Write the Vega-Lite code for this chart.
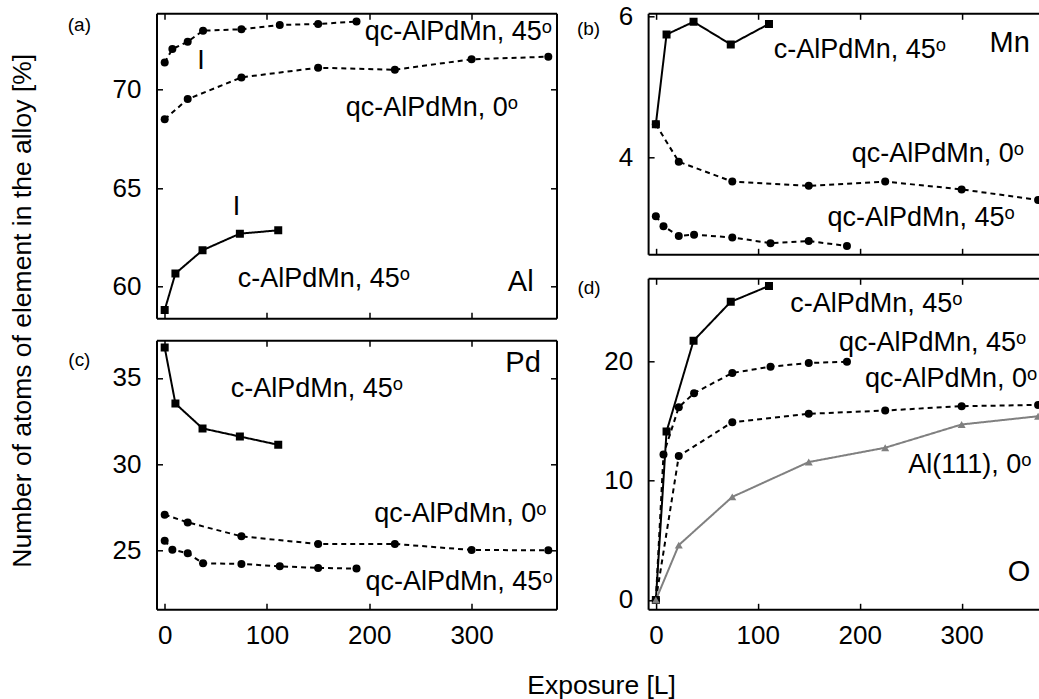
{
  "$schema": "https://vega.github.io/schema/vega-lite/v6.json",
  "padding": {"left": 8.5, "top": 2.3, "right": 0, "bottom": 0},
  "background": "white",
  "config": {
    "font": "Liberation Sans",
    "view": {"stroke": null},
    "axis": {
      "grid": false, "domainColor": "black", "domainWidth": 2, "tickColor": "black", "tickWidth": 1.5, "tickSize": -6,
      "labelFont": "Liberation Sans", "labelFontSize": 26, "labelColor": "black", "labelOverlap": false, "labelFlush": false,
      "titleFont": "Liberation Sans", "titleFontSize": 26.5, "titleColor": "black", "titleFontWeight": "normal", "titlePadding": 0
    },
    "axisX": {"labelPadding": 19},
    "axisY": {"labelPadding": 21.5}
  },
  "datasets": {
    "pts": [
      {"p":"a","s":"qc45","x":0,"y":71.36},{"p":"a","s":"qc45","x":7.5,"y":72.05},{"p":"a","s":"qc45","x":22.5,"y":72.42},{"p":"a","s":"qc45","x":37.5,"y":72.98},{"p":"a","s":"qc45","x":75,"y":73.05},{"p":"a","s":"qc45","x":112.5,"y":73.27},{"p":"a","s":"qc45","x":150,"y":73.32},{"p":"a","s":"qc45","x":187.5,"y":73.44},
      {"p":"a","s":"qc0","x":0,"y":68.49},{"p":"a","s":"qc0","x":22.5,"y":69.51},{"p":"a","s":"qc0","x":75,"y":70.61},{"p":"a","s":"qc0","x":150,"y":71.10},{"p":"a","s":"qc0","x":225,"y":71.00},{"p":"a","s":"qc0","x":300,"y":71.53},{"p":"a","s":"qc0","x":375,"y":71.66},
      {"p":"a","s":"c45","x":0,"y":58.82},{"p":"a","s":"c45","x":10.5,"y":60.67},{"p":"a","s":"c45","x":37,"y":61.85},{"p":"a","s":"c45","x":73.5,"y":62.69},{"p":"a","s":"c45","x":111,"y":62.86},
      {"p":"b","s":"qc0","x":0,"y":4.47},{"p":"b","s":"qc0","x":22.5,"y":3.94},{"p":"b","s":"qc0","x":75,"y":3.66},{"p":"b","s":"qc0","x":150,"y":3.60},{"p":"b","s":"qc0","x":225,"y":3.66},{"p":"b","s":"qc0","x":300,"y":3.55},{"p":"b","s":"qc0","x":375,"y":3.40},
      {"p":"b","s":"qc45","x":0,"y":3.17},{"p":"b","s":"qc45","x":7.5,"y":3.03},{"p":"b","s":"qc45","x":22.5,"y":2.89},{"p":"b","s":"qc45","x":37.5,"y":2.91},{"p":"b","s":"qc45","x":75,"y":2.87},{"p":"b","s":"qc45","x":112.5,"y":2.79},{"p":"b","s":"qc45","x":150,"y":2.82},{"p":"b","s":"qc45","x":187.5,"y":2.75},
      {"p":"b","s":"c45","x":0,"y":4.47},{"p":"b","s":"c45","x":10.5,"y":5.74},{"p":"b","s":"c45","x":37,"y":5.92},{"p":"b","s":"c45","x":73.5,"y":5.60},{"p":"b","s":"c45","x":111,"y":5.89},
      {"p":"c","s":"qc0","x":0,"y":27.07},{"p":"c","s":"qc0","x":22.5,"y":26.62},{"p":"c","s":"qc0","x":75,"y":25.81},{"p":"c","s":"qc0","x":150,"y":25.37},{"p":"c","s":"qc0","x":225,"y":25.37},{"p":"c","s":"qc0","x":300,"y":25.02},{"p":"c","s":"qc0","x":375,"y":25.0},
      {"p":"c","s":"qc45","x":0,"y":25.56},{"p":"c","s":"qc45","x":7.5,"y":25.04},{"p":"c","s":"qc45","x":22.5,"y":24.83},{"p":"c","s":"qc45","x":37.5,"y":24.25},{"p":"c","s":"qc45","x":75,"y":24.21},{"p":"c","s":"qc45","x":112.5,"y":24.07},{"p":"c","s":"qc45","x":150,"y":23.98},{"p":"c","s":"qc45","x":187.5,"y":23.94},
      {"p":"c","s":"c45","x":0,"y":36.76},{"p":"c","s":"c45","x":10.5,"y":33.51},{"p":"c","s":"c45","x":37,"y":32.07},{"p":"c","s":"c45","x":73.5,"y":31.60},{"p":"c","s":"c45","x":111,"y":31.12},
      {"p":"d","s":"qc45","x":0,"y":0},{"p":"d","s":"qc45","x":7.5,"y":12.2},{"p":"d","s":"qc45","x":22.5,"y":16.16},{"p":"d","s":"qc45","x":37.5,"y":17.33},{"p":"d","s":"qc45","x":75,"y":19.03},{"p":"d","s":"qc45","x":112.5,"y":19.55},{"p":"d","s":"qc45","x":150,"y":19.86},{"p":"d","s":"qc45","x":187.5,"y":19.97},
      {"p":"d","s":"qc0","x":0,"y":0},{"p":"d","s":"qc0","x":22.5,"y":12.06},{"p":"d","s":"qc0","x":75,"y":14.90},{"p":"d","s":"qc0","x":150,"y":15.60},{"p":"d","s":"qc0","x":225,"y":15.88},{"p":"d","s":"qc0","x":300,"y":16.24},{"p":"d","s":"qc0","x":375,"y":16.35},
      {"p":"d","s":"c45","x":0,"y":0},{"p":"d","s":"c45","x":10.5,"y":14.12},{"p":"d","s":"c45","x":37,"y":21.73},{"p":"d","s":"c45","x":73.5,"y":24.99},{"p":"d","s":"c45","x":111,"y":26.32},
      {"p":"d","s":"al111","x":0,"y":0},{"p":"d","s":"al111","x":22.5,"y":4.60},{"p":"d","s":"al111","x":75,"y":8.64},{"p":"d","s":"al111","x":150,"y":11.56},{"p":"d","s":"al111","x":225,"y":12.76},{"p":"d","s":"al111","x":300,"y":14.71},{"p":"d","s":"al111","x":375,"y":15.40}
    ],
    "labels": [
      {"p":"a","k":"s","t":"qc-AlPdMn, 45ᵒ","x":195.5,"y":72.93},
      {"p":"a","k":"s","t":"qc-AlPdMn, 0ᵒ","x":177,"y":69.08},
      {"p":"a","k":"s","t":"c-AlPdMn, 45ᵒ","x":71.5,"y":60.39},
      {"p":"a","k":"e","t":"Al","x":335.4,"y":60.22},
      {"p":"a","k":"i","t":"I","x":35.4,"y":71.46},
      {"p":"a","k":"i","t":"I","x":70.1,"y":64.03},
      {"p":"a","k":"l","t":"(a)","x":-83.4,"y":73.27},
      {"p":"b","k":"s","t":"c-AlPdMn, 45ᵒ","x":115.6,"y":5.52},
      {"p":"b","k":"s","t":"qc-AlPdMn, 0ᵒ","x":192.2,"y":4.05},
      {"p":"b","k":"s","t":"qc-AlPdMn, 45ᵒ","x":168.4,"y":3.14},
      {"p":"b","k":"e","t":"Mn","x":327.4,"y":5.62},
      {"p":"b","k":"l","t":"(b)","x":-66,"y":5.82},
      {"p":"c","k":"s","t":"c-AlPdMn, 45ᵒ","x":64.7,"y":34.34},
      {"p":"c","k":"s","t":"qc-AlPdMn, 0ᵒ","x":204.9,"y":27.1},
      {"p":"c","k":"s","t":"qc-AlPdMn, 45ᵒ","x":196.2,"y":23.14},
      {"p":"c","k":"e","t":"Pd","x":333,"y":35.87},
      {"p":"c","k":"l","t":"(c)","x":-83.4,"y":36.06},
      {"p":"d","k":"s","t":"c-AlPdMn, 45ᵒ","x":131.9,"y":24.79},
      {"p":"d","k":"s","t":"qc-AlPdMn, 45ᵒ","x":179.8,"y":21.5},
      {"p":"d","k":"s","t":"qc-AlPdMn, 0ᵒ","x":205.2,"y":18.52},
      {"p":"d","k":"s","t":"Al(111), 0ᵒ","x":247.6,"y":11.28},
      {"p":"d","k":"e","t":"O","x":345.3,"y":2.37},
      {"p":"d","k":"l","t":"(d)","x":-65.5,"y":26.16}
    ]
  },
  "spacing": -31.4,
  "hconcat": [
    {
      "bounds": "flush",
      "spacing": 22,
      "vconcat": [
        {
          "width": 400, "height": 305,
          "resolve": {"axis": {"x": "independent", "y": "independent"}},
          "layer": [
            {
              "data": {"name": "pts"}, "transform": [{"filter": "datum.p === 'a'"}],
              "mark": {"type": "line", "strokeWidth": 2, "clip": true},
              "encoding": {
                "x": {"field": "x", "type": "quantitative", "scale": {"domain": [-8, 383], "nice": false, "zero": false}, "axis": {"orient": "bottom", "values": [0,100,200,300], "labels": false, "title": null}},
                "y": {"field": "y", "type": "quantitative", "scale": {"domain": [58.4, 73.86], "nice": false, "zero": false}, "axis": {"orient": "left", "values": [60,65,70], "title": null}},
                "color": {"field": "s", "type": "nominal", "scale": {"domain": ["qc0","qc45","c45","al111"], "range": ["#000000","#000000","#000000","#808080"]}, "legend": null},
                "strokeDash": {"field": "s", "type": "nominal", "scale": {"domain": ["qc0","qc45","c45","al111"], "range": [[5,4],[5,4],[1,0],[1,0]]}, "legend": null}
              }
            },
            {
              "data": {"name": "pts"}, "transform": [{"filter": "datum.p === 'a'"}],
              "mark": {"type": "point", "filled": true, "opacity": 1, "clip": true},
              "encoding": {
                "x": {"field": "x", "type": "quantitative", "scale": {"domain": [-8, 383], "nice": false, "zero": false}, "axis": null},
                "y": {"field": "y", "type": "quantitative", "scale": {"domain": [58.4, 73.86], "nice": false, "zero": false}, "axis": null},
                "color": {"field": "s", "type": "nominal", "scale": {"domain": ["qc0","qc45","c45","al111"], "range": ["#000000","#000000","#000000","#808080"]}, "legend": null},
                "shape": {"field": "s", "type": "nominal", "scale": {"domain": ["qc0","qc45","c45","al111"], "range": ["circle","circle","square","triangle-up"]}, "legend": null},
                "size": {"field": "s", "type": "ordinal", "scale": {"domain": ["qc0","qc45","c45","al111"], "range": [64,64,100,90]}, "legend": null}
              }
            },
            {
              "data": {"name": "pts"}, "transform": [{"filter": "datum.p === 'a'"}],
              "mark": {"type": "point", "opacity": 0},
              "encoding": {
                "x": {"field": "x", "type": "quantitative", "scale": {"domain": [-8, 383], "nice": false, "zero": false}, "axis": {"orient": "top", "values": [0,100,200,300], "labels": false, "title": null}},
                "y": {"field": "y", "type": "quantitative", "scale": {"domain": [58.4, 73.86], "nice": false, "zero": false}, "axis": {"orient": "right", "values": [60,65,70], "labels": false, "title": null}}
              }
            },
            {
              "data": {"name": "labels"}, "transform": [{"filter": "datum.p === 'a' && datum.k === 's'"}],
              "mark": {"type": "text", "align": "left", "baseline": "middle", "fontSize": 27, "color": "black"},
              "encoding": {
                "x": {"field": "x", "type": "quantitative", "scale": {"domain": [-8, 383], "nice": false, "zero": false}, "axis": null},
                "y": {"field": "y", "type": "quantitative", "scale": {"domain": [58.4, 73.86], "nice": false, "zero": false}, "axis": null},
                "text": {"field": "t"}
              }
            },
            {
              "data": {"name": "labels"}, "transform": [{"filter": "datum.p === 'a' && datum.k === 'e'"}],
              "mark": {"type": "text", "align": "left", "baseline": "middle", "fontSize": 29, "color": "black"},
              "encoding": {
                "x": {"field": "x", "type": "quantitative", "scale": {"domain": [-8, 383], "nice": false, "zero": false}, "axis": null},
                "y": {"field": "y", "type": "quantitative", "scale": {"domain": [58.4, 73.86], "nice": false, "zero": false}, "axis": null},
                "text": {"field": "t"}
              }
            },
            {
              "data": {"name": "labels"}, "transform": [{"filter": "datum.p === 'a' && datum.k === 'i'"}],
              "mark": {"type": "text", "align": "center", "baseline": "middle", "fontSize": 27, "color": "black"},
              "encoding": {
                "x": {"field": "x", "type": "quantitative", "scale": {"domain": [-8, 383], "nice": false, "zero": false}, "axis": null},
                "y": {"field": "y", "type": "quantitative", "scale": {"domain": [58.4, 73.86], "nice": false, "zero": false}, "axis": null},
                "text": {"field": "t"}
              }
            },
            {
              "data": {"name": "labels"}, "transform": [{"filter": "datum.p === 'a' && datum.k === 'l'"}],
              "mark": {"type": "text", "align": "center", "baseline": "middle", "fontSize": 19, "color": "black"},
              "encoding": {
                "x": {"field": "x", "type": "quantitative", "scale": {"domain": [-8, 383], "nice": false, "zero": false}, "axis": null},
                "y": {"field": "y", "type": "quantitative", "scale": {"domain": [58.4, 73.86], "nice": false, "zero": false}, "axis": null},
                "text": {"field": "t"}
              }
            }
          ]
        },
        {
          "width": 400, "height": 269,
          "resolve": {"axis": {"x": "independent", "y": "independent"}},
          "layer": [
            {
              "data": {"name": "pts"}, "transform": [{"filter": "datum.p === 'c'"}],
              "mark": {"type": "line", "strokeWidth": 2, "clip": true},
              "encoding": {
                "x": {"field": "x", "type": "quantitative", "scale": {"domain": [-8, 383], "nice": false, "zero": false}, "axis": {"orient": "bottom", "values": [0,100,200,300], "title": null}},
                "y": {"field": "y", "type": "quantitative", "scale": {"domain": [21.58, 37.18], "nice": false, "zero": false}, "axis": {"orient": "left", "values": [25,30,35], "title": "Number of atoms of element in the alloy [%]", "titleX": -134, "titleY": -30, "titleAngle": 270, "titleAlign": "center", "titleBaseline": "middle", "titleAnchor": null}},
                "color": {"field": "s", "type": "nominal", "scale": {"domain": ["qc0","qc45","c45","al111"], "range": ["#000000","#000000","#000000","#808080"]}, "legend": null},
                "strokeDash": {"field": "s", "type": "nominal", "scale": {"domain": ["qc0","qc45","c45","al111"], "range": [[5,4],[5,4],[1,0],[1,0]]}, "legend": null}
              }
            },
            {
              "data": {"name": "pts"}, "transform": [{"filter": "datum.p === 'c'"}],
              "mark": {"type": "point", "filled": true, "opacity": 1, "clip": true},
              "encoding": {
                "x": {"field": "x", "type": "quantitative", "scale": {"domain": [-8, 383], "nice": false, "zero": false}, "axis": null},
                "y": {"field": "y", "type": "quantitative", "scale": {"domain": [21.58, 37.18], "nice": false, "zero": false}, "axis": null},
                "color": {"field": "s", "type": "nominal", "scale": {"domain": ["qc0","qc45","c45","al111"], "range": ["#000000","#000000","#000000","#808080"]}, "legend": null},
                "shape": {"field": "s", "type": "nominal", "scale": {"domain": ["qc0","qc45","c45","al111"], "range": ["circle","circle","square","triangle-up"]}, "legend": null},
                "size": {"field": "s", "type": "ordinal", "scale": {"domain": ["qc0","qc45","c45","al111"], "range": [64,64,100,90]}, "legend": null}
              }
            },
            {
              "data": {"name": "pts"}, "transform": [{"filter": "datum.p === 'c'"}],
              "mark": {"type": "point", "opacity": 0},
              "encoding": {
                "x": {"field": "x", "type": "quantitative", "scale": {"domain": [-8, 383], "nice": false, "zero": false}, "axis": {"orient": "top", "values": [0,100,200,300], "labels": false, "title": null}},
                "y": {"field": "y", "type": "quantitative", "scale": {"domain": [21.58, 37.18], "nice": false, "zero": false}, "axis": {"orient": "right", "values": [25,30,35], "labels": false, "title": null}}
              }
            },
            {
              "data": {"name": "labels"}, "transform": [{"filter": "datum.p === 'c' && datum.k === 's'"}],
              "mark": {"type": "text", "align": "left", "baseline": "middle", "fontSize": 27, "color": "black"},
              "encoding": {
                "x": {"field": "x", "type": "quantitative", "scale": {"domain": [-8, 383], "nice": false, "zero": false}, "axis": null},
                "y": {"field": "y", "type": "quantitative", "scale": {"domain": [21.58, 37.18], "nice": false, "zero": false}, "axis": null},
                "text": {"field": "t"}
              }
            },
            {
              "data": {"name": "labels"}, "transform": [{"filter": "datum.p === 'c' && datum.k === 'e'"}],
              "mark": {"type": "text", "align": "left", "baseline": "middle", "fontSize": 29, "color": "black"},
              "encoding": {
                "x": {"field": "x", "type": "quantitative", "scale": {"domain": [-8, 383], "nice": false, "zero": false}, "axis": null},
                "y": {"field": "y", "type": "quantitative", "scale": {"domain": [21.58, 37.18], "nice": false, "zero": false}, "axis": null},
                "text": {"field": "t"}
              }
            },
            {
              "data": {"name": "labels"}, "transform": [{"filter": "datum.p === 'c' && datum.k === 'l'"}],
              "mark": {"type": "text", "align": "center", "baseline": "middle", "fontSize": 19, "color": "black"},
              "encoding": {
                "x": {"field": "x", "type": "quantitative", "scale": {"domain": [-8, 383], "nice": false, "zero": false}, "axis": null},
                "y": {"field": "y", "type": "quantitative", "scale": {"domain": [21.58, 37.18], "nice": false, "zero": false}, "axis": null},
                "text": {"field": "t"}
              }
            }
          ]
        }
      ]
    },
    {
      "bounds": "flush",
      "spacing": 24,
      "vconcat": [
        {
          "width": 391, "height": 241,
          "resolve": {"axis": {"x": "independent", "y": "independent"}},
          "layer": [
            {
              "data": {"name": "pts"}, "transform": [{"filter": "datum.p === 'b'"}],
              "mark": {"type": "line", "strokeWidth": 2, "clip": true},
              "encoding": {
                "x": {"field": "x", "type": "quantitative", "scale": {"domain": [-7.6, 376], "nice": false, "zero": false}, "axis": {"orient": "bottom", "values": [0,100,200,300], "labels": false, "title": null}},
                "y": {"field": "y", "type": "quantitative", "scale": {"domain": [2.632, 6.04], "nice": false, "zero": false}, "axis": {"orient": "left", "values": [4,6], "title": null}},
                "color": {"field": "s", "type": "nominal", "scale": {"domain": ["qc0","qc45","c45","al111"], "range": ["#000000","#000000","#000000","#808080"]}, "legend": null},
                "strokeDash": {"field": "s", "type": "nominal", "scale": {"domain": ["qc0","qc45","c45","al111"], "range": [[5,4],[5,4],[1,0],[1,0]]}, "legend": null}
              }
            },
            {
              "data": {"name": "pts"}, "transform": [{"filter": "datum.p === 'b'"}],
              "mark": {"type": "point", "filled": true, "opacity": 1, "clip": true},
              "encoding": {
                "x": {"field": "x", "type": "quantitative", "scale": {"domain": [-7.6, 376], "nice": false, "zero": false}, "axis": null},
                "y": {"field": "y", "type": "quantitative", "scale": {"domain": [2.632, 6.04], "nice": false, "zero": false}, "axis": null},
                "color": {"field": "s", "type": "nominal", "scale": {"domain": ["qc0","qc45","c45","al111"], "range": ["#000000","#000000","#000000","#808080"]}, "legend": null},
                "shape": {"field": "s", "type": "nominal", "scale": {"domain": ["qc0","qc45","c45","al111"], "range": ["circle","circle","square","triangle-up"]}, "legend": null},
                "size": {"field": "s", "type": "ordinal", "scale": {"domain": ["qc0","qc45","c45","al111"], "range": [64,64,100,90]}, "legend": null}
              }
            },
            {
              "data": {"name": "pts"}, "transform": [{"filter": "datum.p === 'b'"}],
              "mark": {"type": "point", "opacity": 0},
              "encoding": {
                "x": {"field": "x", "type": "quantitative", "scale": {"domain": [-7.6, 376], "nice": false, "zero": false}, "axis": {"orient": "top", "values": [0,100,200,300], "labels": false, "title": null}},
                "y": {"field": "y", "type": "quantitative", "scale": {"domain": [2.632, 6.04], "nice": false, "zero": false}, "axis": null}
              }
            },
            {
              "data": {"name": "labels"}, "transform": [{"filter": "datum.p === 'b' && datum.k === 's'"}],
              "mark": {"type": "text", "align": "left", "baseline": "middle", "fontSize": 27, "color": "black"},
              "encoding": {
                "x": {"field": "x", "type": "quantitative", "scale": {"domain": [-7.6, 376], "nice": false, "zero": false}, "axis": null},
                "y": {"field": "y", "type": "quantitative", "scale": {"domain": [2.632, 6.04], "nice": false, "zero": false}, "axis": null},
                "text": {"field": "t"}
              }
            },
            {
              "data": {"name": "labels"}, "transform": [{"filter": "datum.p === 'b' && datum.k === 'e'"}],
              "mark": {"type": "text", "align": "left", "baseline": "middle", "fontSize": 29, "color": "black"},
              "encoding": {
                "x": {"field": "x", "type": "quantitative", "scale": {"domain": [-7.6, 376], "nice": false, "zero": false}, "axis": null},
                "y": {"field": "y", "type": "quantitative", "scale": {"domain": [2.632, 6.04], "nice": false, "zero": false}, "axis": null},
                "text": {"field": "t"}
              }
            },
            {
              "data": {"name": "labels"}, "transform": [{"filter": "datum.p === 'b' && datum.k === 'l'"}],
              "mark": {"type": "text", "align": "center", "baseline": "middle", "fontSize": 19, "color": "black"},
              "encoding": {
                "x": {"field": "x", "type": "quantitative", "scale": {"domain": [-7.6, 376], "nice": false, "zero": false}, "axis": null},
                "y": {"field": "y", "type": "quantitative", "scale": {"domain": [2.632, 6.04], "nice": false, "zero": false}, "axis": null},
                "text": {"field": "t"}
              }
            }
          ]
        },
        {
          "width": 391, "height": 331,
          "resolve": {"axis": {"x": "independent", "y": "independent"}},
          "layer": [
            {
              "data": {"name": "pts"}, "transform": [{"filter": "datum.p === 'd'"}],
              "mark": {"type": "line", "strokeWidth": 2, "clip": true},
              "encoding": {
                "x": {"field": "x", "type": "quantitative", "scale": {"domain": [-7.6, 376], "nice": false, "zero": false}, "axis": {"orient": "bottom", "values": [0,100,200,300], "title": "Exposure [L]", "titleX": -47, "titleY": 76, "titleAlign": "center", "titleBaseline": "middle", "titleAnchor": null}},
                "y": {"field": "y", "type": "quantitative", "scale": {"domain": [-0.78, 26.96], "nice": false, "zero": false}, "axis": {"orient": "left", "values": [0,10,20], "title": null}},
                "color": {"field": "s", "type": "nominal", "scale": {"domain": ["qc0","qc45","c45","al111"], "range": ["#000000","#000000","#000000","#808080"]}, "legend": null},
                "strokeDash": {"field": "s", "type": "nominal", "scale": {"domain": ["qc0","qc45","c45","al111"], "range": [[5,4],[5,4],[1,0],[1,0]]}, "legend": null}
              }
            },
            {
              "data": {"name": "pts"}, "transform": [{"filter": "datum.p === 'd'"}],
              "mark": {"type": "point", "filled": true, "opacity": 1, "clip": true},
              "encoding": {
                "x": {"field": "x", "type": "quantitative", "scale": {"domain": [-7.6, 376], "nice": false, "zero": false}, "axis": null},
                "y": {"field": "y", "type": "quantitative", "scale": {"domain": [-0.78, 26.96], "nice": false, "zero": false}, "axis": null},
                "color": {"field": "s", "type": "nominal", "scale": {"domain": ["qc0","qc45","c45","al111"], "range": ["#000000","#000000","#000000","#808080"]}, "legend": null},
                "shape": {"field": "s", "type": "nominal", "scale": {"domain": ["qc0","qc45","c45","al111"], "range": ["circle","circle","square","triangle-up"]}, "legend": null},
                "size": {"field": "s", "type": "ordinal", "scale": {"domain": ["qc0","qc45","c45","al111"], "range": [64,64,100,90]}, "legend": null}
              }
            },
            {
              "data": {"name": "pts"}, "transform": [{"filter": "datum.p === 'd'"}],
              "mark": {"type": "point", "opacity": 0},
              "encoding": {
                "x": {"field": "x", "type": "quantitative", "scale": {"domain": [-7.6, 376], "nice": false, "zero": false}, "axis": {"orient": "top", "values": [0,100,200,300], "labels": false, "title": null}},
                "y": {"field": "y", "type": "quantitative", "scale": {"domain": [-0.78, 26.96], "nice": false, "zero": false}, "axis": null}
              }
            },
            {
              "data": {"name": "labels"}, "transform": [{"filter": "datum.p === 'd' && datum.k === 's'"}],
              "mark": {"type": "text", "align": "left", "baseline": "middle", "fontSize": 27, "color": "black"},
              "encoding": {
                "x": {"field": "x", "type": "quantitative", "scale": {"domain": [-7.6, 376], "nice": false, "zero": false}, "axis": null},
                "y": {"field": "y", "type": "quantitative", "scale": {"domain": [-0.78, 26.96], "nice": false, "zero": false}, "axis": null},
                "text": {"field": "t"}
              }
            },
            {
              "data": {"name": "labels"}, "transform": [{"filter": "datum.p === 'd' && datum.k === 'e'"}],
              "mark": {"type": "text", "align": "left", "baseline": "middle", "fontSize": 29, "color": "black"},
              "encoding": {
                "x": {"field": "x", "type": "quantitative", "scale": {"domain": [-7.6, 376], "nice": false, "zero": false}, "axis": null},
                "y": {"field": "y", "type": "quantitative", "scale": {"domain": [-0.78, 26.96], "nice": false, "zero": false}, "axis": null},
                "text": {"field": "t"}
              }
            },
            {
              "data": {"name": "labels"}, "transform": [{"filter": "datum.p === 'd' && datum.k === 'l'"}],
              "mark": {"type": "text", "align": "center", "baseline": "middle", "fontSize": 19, "color": "black"},
              "encoding": {
                "x": {"field": "x", "type": "quantitative", "scale": {"domain": [-7.6, 376], "nice": false, "zero": false}, "axis": null},
                "y": {"field": "y", "type": "quantitative", "scale": {"domain": [-0.78, 26.96], "nice": false, "zero": false}, "axis": null},
                "text": {"field": "t"}
              }
            }
          ]
        }
      ]
    }
  ]
}
